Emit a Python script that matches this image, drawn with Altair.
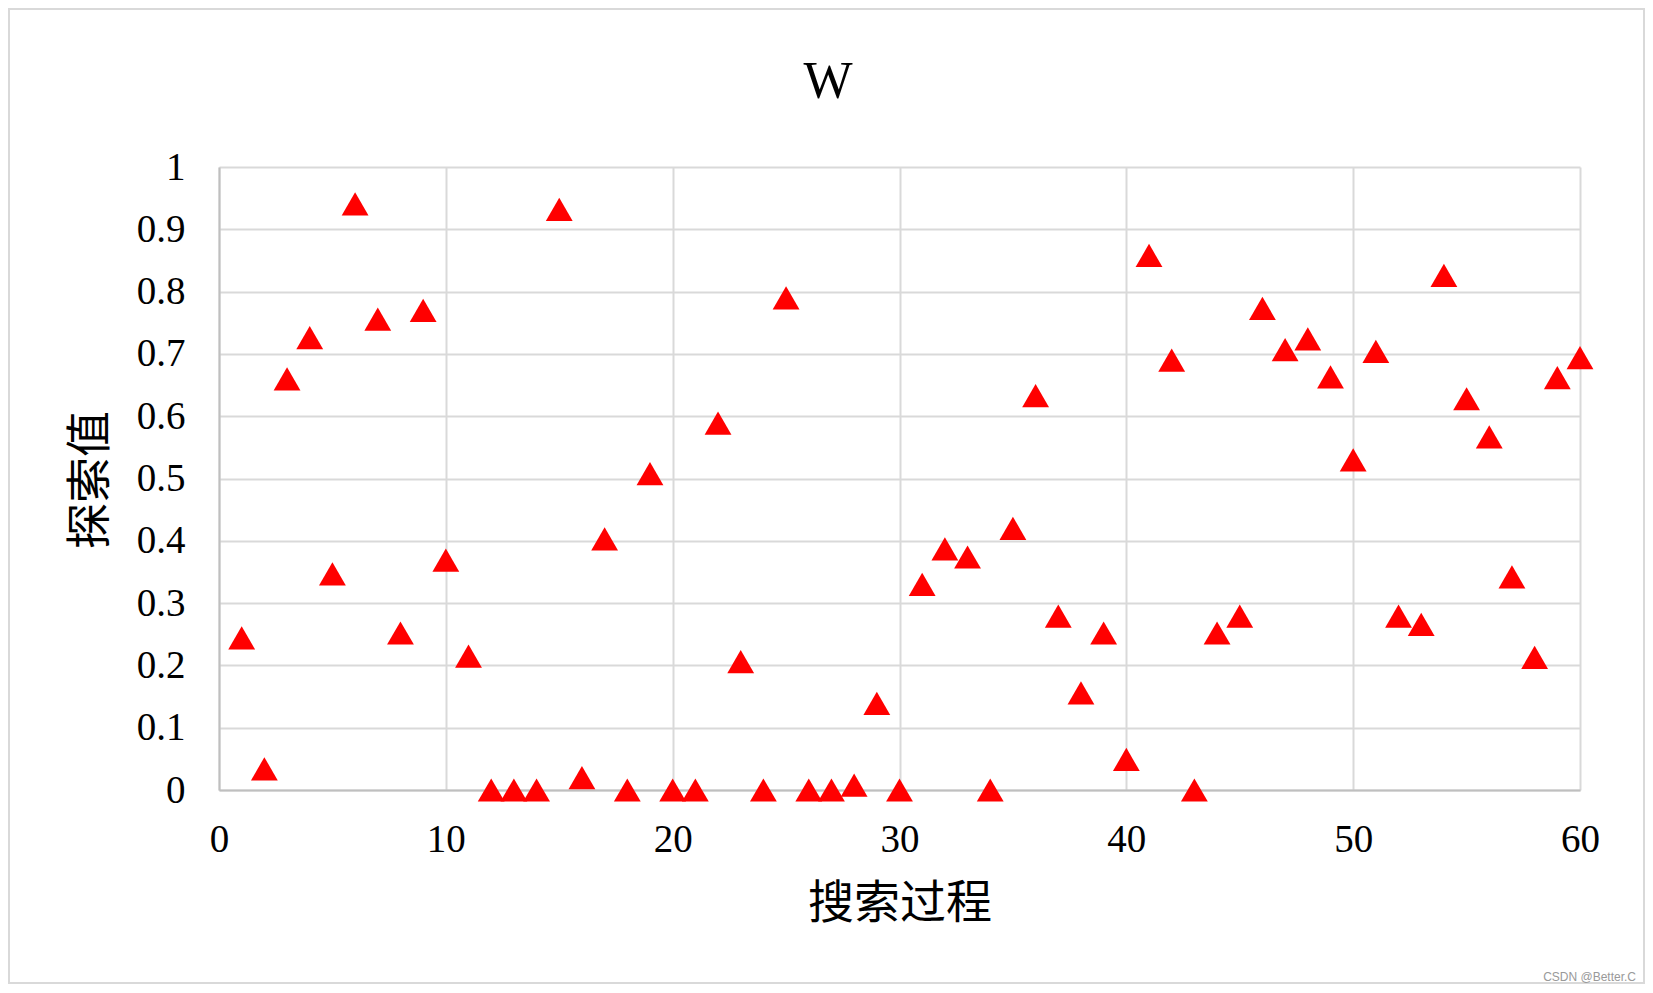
import altair as alt
import pandas as pd

steps = list(range(1, 61))
values = [0.244, 0.034, 0.660, 0.726, 0.347, 0.941, 0.756, 0.252, 0.770, 0.369,
          0.215, 0.0, 0.0, 0.0, 0.932, 0.020, 0.403, 0.0, 0.508, 0.0,
          0.0, 0.589, 0.206, 0.0, 0.790, 0.0, 0.0, 0.008, 0.139, 0.0,
          0.330, 0.387, 0.374, 0.0, 0.420, 0.633, 0.279, 0.156, 0.252, 0.049,
          0.858, 0.690, 0.0, 0.252, 0.279, 0.773, 0.707, 0.724, 0.663, 0.530,
          0.704, 0.279, 0.266, 0.826, 0.628, 0.567, 0.342, 0.213, 0.662, 0.694]

title_text = "W"
x_title = "搜索过程"
y_title = "探索值"
watermark = "CSDN @Better.C"

df = pd.DataFrame({"step": steps, "value": values})

W, H = 1361, 623
PAD_L, PAD_T, PAD_R, PAD_B = 211, 159, 65, 194

serif = "Liberation Serif"
cjk = "Noto Sans CJK SC"

def px(page_x):
    return page_x - 8 - PAD_L

def py(page_y):
    return page_y - 8 - PAD_T

frame_df = pd.DataFrame({"k": [1]})
frame = alt.Chart(frame_df).mark_rect(fill="#ffffff", fillOpacity=0, stroke="#d9d9d9",
                                      strokeWidth=2, clip=False).encode(
    x=alt.value(-PAD_L + 1), x2=alt.value(W + PAD_R - 1),
    y=alt.value(-PAD_T + 1), y2=alt.value(H + PAD_B - 1))

points = alt.Chart(df).mark_point(shape="triangle-up", filled=True, color="#ff0000",
                                  size=720, opacity=1, clip=False).encode(
    x=alt.X("step:Q", scale=alt.Scale(domain=[0, 60], nice=False),
            axis=alt.Axis(values=[0, 10, 20, 30, 40, 50, 60], title=None,
                          labelFont=serif, labelFontSize=39, labelColor="#000000",
                          labelPadding=30, labelFlush=False, ticks=False,
                          domainColor="#bfbfbf", domainWidth=2,
                          gridColor="#d9d9d9", gridWidth=2)),
    y=alt.Y("value:Q", scale=alt.Scale(domain=[0, 1], nice=False),
            axis=alt.Axis(values=[0, 0.1, 0.2, 0.3, 0.4, 0.5, 0.6, 0.7, 0.8, 0.9, 1.0],
                          format=".1~f", title=None,
                          labelFont=serif, labelFontSize=39, labelColor="#000000",
                          labelPadding=34, ticks=False, domainColor="#bfbfbf",
                          domainWidth=2, gridColor="#d9d9d9", gridWidth=2)),
)

title_df = pd.DataFrame({"t": [title_text]})
title_mark = alt.Chart(title_df).mark_text(font=serif, fontSize=52, color="#000000",
                                           baseline="middle", align="center").encode(
    text="t:N", x=alt.value(px(828)), y=alt.value(py(82)))

xt_df = pd.DataFrame({"t": [x_title]})
xt_mark = alt.Chart(xt_df).mark_text(font=cjk, fontSize=46, color="#000000",
                                     baseline="middle", align="center").encode(
    text="t:N", x=alt.value(px(900)), y=alt.value(py(904)))

yt_df = pd.DataFrame({"t": [y_title]})
yt_mark = alt.Chart(yt_df).mark_text(font=cjk, fontSize=46, color="#000000",
                                     baseline="middle", align="center", angle=270).encode(
    text="t:N", x=alt.value(px(91)), y=alt.value(py(480)))

wm_df = pd.DataFrame({"t": [watermark]})
wm_mark = alt.Chart(wm_df).mark_text(font="Liberation Sans", fontSize=12, color="#999999",
                                     baseline="middle", align="right").encode(
    text="t:N", x=alt.value(px(1636)), y=alt.value(py(977)))

chart = alt.layer(frame, points, title_mark, xt_mark, yt_mark, wm_mark).properties(
    width=W, height=H,
    autosize=alt.AutoSizeParams(type="none"),
    padding={"left": PAD_L, "top": PAD_T, "right": PAD_R, "bottom": PAD_B},
    background="#ffffff",
).configure_view(stroke=None)

chart.save("out.html", embed_options={"renderer": "svg", "actions": False})
